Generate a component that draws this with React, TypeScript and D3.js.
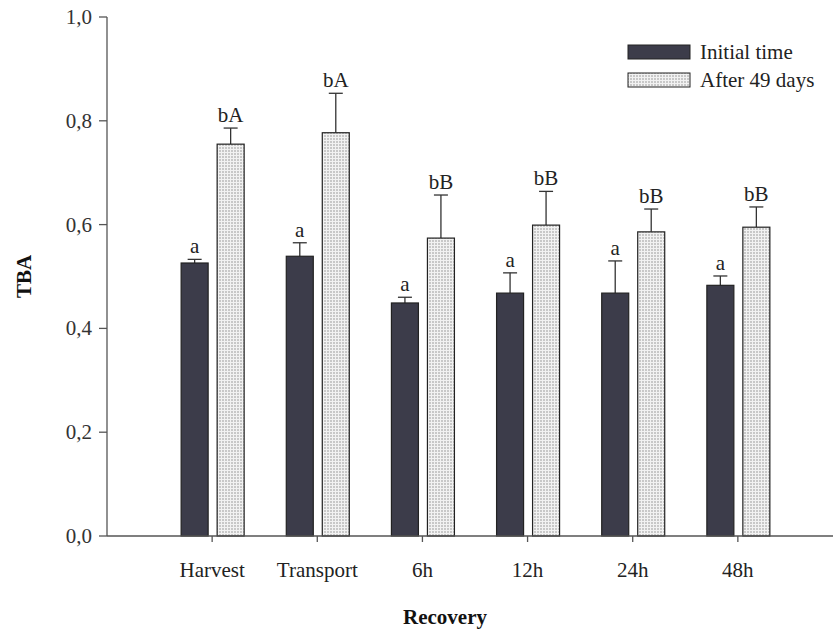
import React from "react";
import * as d3 from "d3";

const categories = ["Harvest", "Transport", "6h", "12h", "24h", "48h"];
const initialValues = [0.526, 0.539, 0.449, 0.468, 0.468, 0.483];
const initialErrors = [0.007, 0.026, 0.011, 0.039, 0.062, 0.018];
const afterValues = [0.755, 0.777, 0.574, 0.599, 0.586, 0.595];
const afterErrors = [0.031, 0.076, 0.083, 0.065, 0.044, 0.039];
const initialLetters = ["a", "a", "a", "a", "a", "a"];
const afterLetters = ["bA", "bA", "bB", "bB", "bB", "bB"];
const yTicks = [0, 0.2, 0.4, 0.6, 0.8, 1.0];
const seriesNames = ["Initial time", "After 49 days"];

const W = 833;
const H = 633;
const font = "'Liberation Serif', 'Times New Roman', serif";

export default function App() {
  const x = d3.scaleLinear().domain([0, 7]).range([107, 843]);
  const y = d3.scaleLinear().domain([0, 1]).range([536, 17]);
  const barW = 27;
  const darkFill = "#3c3c4a";
  const axisColor = "#555";
  const textColor = "#222";
  const fs = 21;

  const fmt = (v: number) => v.toFixed(1).replace(".", ",");

  const series = [
    { vals: initialValues, errs: initialErrors, letters: initialLetters, off: -31, fill: darkFill },
    { vals: afterValues, errs: afterErrors, letters: afterLetters, off: 5, fill: "url(#dots)" },
  ];

  return (
    <svg width={W} height={H} style={{ position: "absolute", left: 0, top: 0, background: "#fff" }}>
      <defs>
        <pattern id="dots" width="3" height="3" patternUnits="userSpaceOnUse">
          <rect width="3" height="3" fill="#f2f2f2" />
          <circle cx="1" cy="1" r="0.75" fill="#8a8a8a" />
        </pattern>
      </defs>
      <rect width={W} height={H} fill="#fff" />

      {/* bars */}
      {categories.map((c, i) =>
        series.map((s, si) => {
          const cx = x(i + 1);
          const x0 = cx + s.off;
          const top = y(s.vals[i]);
          const errTop = y(s.vals[i] + s.errs[i]);
          const mid = x0 + barW / 2;
          return (
            <g key={c + si}>
              <line x1={mid} x2={mid} y1={top} y2={errTop} stroke="#333" strokeWidth={1.3} />
              <line x1={mid - 7} x2={mid + 7} y1={errTop} y2={errTop} stroke="#333" strokeWidth={1.3} />
              <rect x={x0} y={top} width={barW} height={y(0) - top} fill={s.fill} stroke="#222" strokeWidth={1.2} />
              <text x={mid} y={errTop - 6} textAnchor="middle" fontFamily={font} fontSize={fs} fill={textColor}>
                {s.letters[i]}
              </text>
            </g>
          );
        })
      )}

      {/* y axis */}
      <line x1={107} x2={107} y1={y(1)} y2={y(0)} stroke={axisColor} strokeWidth={1.3} />
      {yTicks.map((t) => (
        <g key={t}>
          <line x1={99} x2={107} y1={y(t)} y2={y(t)} stroke={axisColor} strokeWidth={1.3} />
          <text x={92} y={y(t) + 7} textAnchor="end" fontFamily={font} fontSize={fs} fill="#333">
            {fmt(t)}
          </text>
        </g>
      ))}

      {/* x axis */}
      <line x1={107} x2={833} y1={y(0)} y2={y(0)} stroke={axisColor} strokeWidth={1.3} />
      {categories.map((c, i) => (
        <g key={c}>
          <line x1={x(i + 1)} x2={x(i + 1)} y1={y(0)} y2={y(0) + 6} stroke={axisColor} strokeWidth={1.3} />
          <text x={x(i + 1)} y={577} textAnchor="middle" fontFamily={font} fontSize={fs} fill={textColor}>
            {c}
          </text>
        </g>
      ))}

      {/* axis titles */}
      <text
        transform={`translate(31, ${y(0.5)}) rotate(-90)`}
        textAnchor="middle"
        fontFamily={font}
        fontSize={fs}
        fontWeight="bold"
        fill="#111"
      >
        TBA
      </text>
      <text x={445} y={624} textAnchor="middle" fontFamily={font} fontSize={fs} fontWeight="bold" fill="#111">
        Recovery
      </text>

      {/* legend */}
      {seriesNames.map((n, i) => (
        <g key={n}>
          <rect
            x={628}
            y={45 + i * 28}
            width={62}
            height={14}
            fill={i === 0 ? darkFill : "url(#dots)"}
            stroke="#222"
            strokeWidth={1}
          />
          <text x={700} y={59 + i * 28} fontFamily={font} fontSize={fs} fill={textColor}>
            {n}
          </text>
        </g>
      ))}
    </svg>
  );
}
